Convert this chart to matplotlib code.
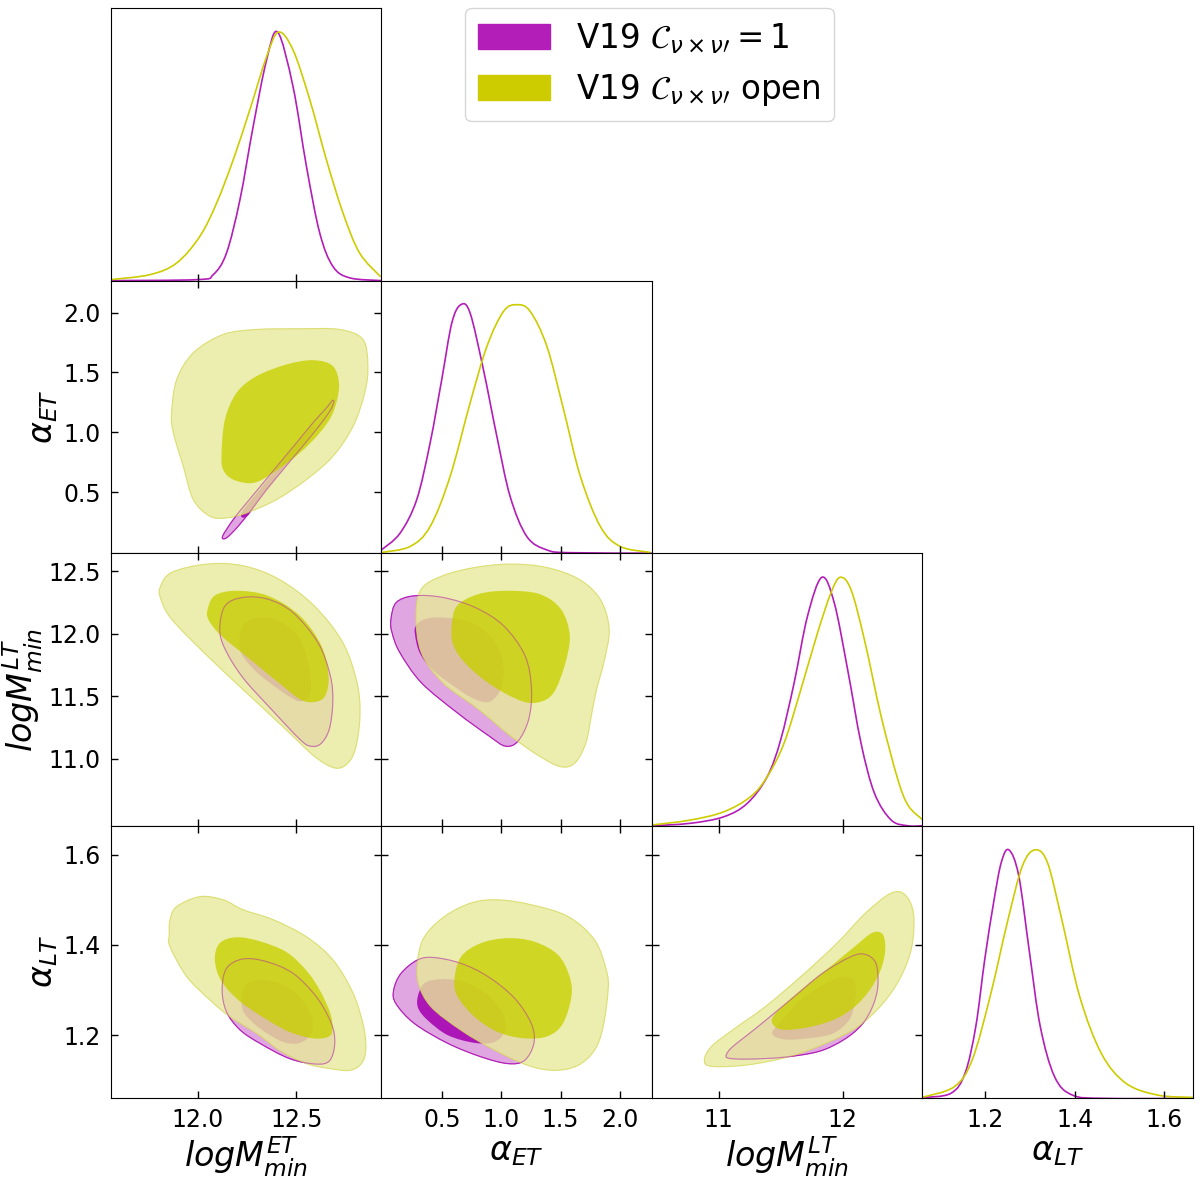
import numpy as np
import matplotlib.pyplot as plt
from matplotlib.path import Path
from matplotlib.patches import PathPatch, Patch

# parameters
names = [r'$logM^{ET}_{min}$', r'$\alpha_{ET}$', r'$logM^{LT}_{min}$', r'$\alpha_{LT}$']
limits = [(11.56, 12.93), (-0.012, 2.269), (10.462, 12.643), (1.06, 1.664)]
xticks = [[12.0, 12.5], [0.5, 1.0, 1.5, 2.0], [11, 12], [1.2, 1.4, 1.6]]
yticks = [[], [0.5, 1.0, 1.5, 2.0], [11.0, 11.5, 12.0, 12.5], [1.2, 1.4, 1.6]]
xfmt = ['{:.1f}', '{:.1f}', '{:.0f}', '{:.1f}']
legend_labels = [r'V19 $\mathcal{C}_{\nu\times\nu\prime}=1$', r'V19 $\mathcal{C}_{\nu\times\nu\prime}$ open']

# 1D marginals (x, normalised density)
mag_1d_mET = [(11.56, 0.0), (12.0, 0.004), (12.079, 0.024), (12.146, 0.111), (12.214, 0.325), (12.281, 0.62),
              (12.349, 0.888), (12.405, 1.0), (12.483, 0.78), (12.551, 0.459), (12.618, 0.192),
              (12.685, 0.057), (12.77, 0.011), (12.93, 0.0)]
yel_1d_mET = [(11.56, 0.004), (11.759, 0.024), (11.894, 0.071), (12.011, 0.178), (12.096, 0.312), (12.18, 0.486),
              (12.264, 0.687), (12.349, 0.901), (12.409, 1.0), (12.483, 0.928), (12.568, 0.727),
              (12.652, 0.486), (12.736, 0.272), (12.82, 0.111), (12.927, 0.015)]
mag_1d_aET = [(-0.012, 0.013), (0.145, 0.08), (0.286, 0.215), (0.399, 0.443), (0.497, 0.698), (0.582, 0.926),
              (0.658, 1.0), (0.736, 0.967), (0.849, 0.738), (0.962, 0.47), (1.074, 0.228), (1.215, 0.067),
              (1.384, 0.013), (1.58, 0.002), (2.269, 0.0)]
yel_1d_aET = [(-0.012, 0.003), (0.23, 0.027), (0.399, 0.107), (0.568, 0.309), (0.736, 0.604), (0.878, 0.832),
              (1.018, 0.973), (1.131, 1.0), (1.243, 0.973), (1.384, 0.832), (1.525, 0.577), (1.666, 0.309),
              (1.835, 0.107), (2.003, 0.027), (2.257, 0.003)]
mag_1d_mLT = [(10.46, 0.0), (10.771, 0.01), (11.04, 0.036), (11.23, 0.09), (11.392, 0.198), (11.5, 0.346),
              (11.608, 0.574), (11.716, 0.843), (11.832, 1.0), (11.932, 0.897), (12.04, 0.628),
              (12.148, 0.332), (12.256, 0.131), (12.391, 0.023), (12.527, 0.0), (12.643, 0.0)]
yel_1d_mLT = [(10.46, 0.003), (10.771, 0.023), (11.04, 0.056), (11.257, 0.117), (11.392, 0.198), (11.527, 0.332),
              (11.662, 0.547), (11.797, 0.776), (11.905, 0.937), (11.98, 1.0), (12.067, 0.95), (12.175, 0.749),
              (12.31, 0.44), (12.446, 0.184), (12.53, 0.08), (12.643, 0.025)]
mag_1d_aLT = [(1.059, 0.003), (1.123, 0.02), (1.155, 0.101), (1.179, 0.289), (1.199, 0.559), (1.219, 0.79),
              (1.236, 0.95), (1.253, 1.0), (1.275, 0.895), (1.299, 0.586), (1.323, 0.289), (1.355, 0.087),
              (1.395, 0.013), (1.467, 0.0), (1.664, 0.0)]
yel_1d_aLT = [(1.059, 0.004), (1.131, 0.047), (1.171, 0.155), (1.211, 0.41), (1.251, 0.72), (1.283, 0.935),
              (1.311, 1.0), (1.339, 0.949), (1.371, 0.72), (1.411, 0.41), (1.459, 0.182), (1.514, 0.061),
              (1.586, 0.013), (1.664, 0.004)]

# 2D contours (68% inner, 95% outer), outlines in data units
# alpha_ET vs logM_ET
yel_out_10 = [(11.868, 1.162), (11.894, 1.441), (11.978, 1.665), (12.129, 1.818), (12.298, 1.86), (12.517, 1.866),
              (12.719, 1.86), (12.837, 1.776), (12.862, 1.553), (12.846, 1.33), (12.787, 1.05), (12.685, 0.799),
              (12.551, 0.604), (12.399, 0.436), (12.248, 0.325), (12.146, 0.283), (12.062, 0.297),
              (11.978, 0.436), (11.927, 0.715), (11.877, 0.995)]
yel_in_10 = [(12.121, 0.827), (12.138, 1.106), (12.197, 1.33), (12.298, 1.469), (12.45, 1.567), (12.584, 1.603),
             (12.685, 1.553), (12.716, 1.385), (12.685, 1.162), (12.618, 0.995), (12.517, 0.827),
             (12.382, 0.66), (12.281, 0.576), (12.18, 0.604), (12.129, 0.688)]
mag_out_10 = [(12.126, 0.129), (12.18, 0.269), (12.248, 0.409), (12.332, 0.576), (12.416, 0.744), (12.5, 0.911),
              (12.584, 1.079), (12.652, 1.204), (12.682, 1.265), (12.689, 1.251), (12.669, 1.176),
              (12.601, 1.023), (12.517, 0.855), (12.433, 0.688), (12.349, 0.52), (12.273, 0.353),
              (12.205, 0.213), (12.146, 0.116)]
mag_in_10 = [(12.222, 0.325), (12.315, 0.52), (12.416, 0.73), (12.517, 0.939), (12.581, 1.05), (12.588, 1.023),
             (12.534, 0.897), (12.433, 0.688), (12.332, 0.478), (12.25, 0.297)]

# logM_LT vs logM_ET
yel_out_20 = [(11.81, 12.369), (11.868, 12.489), (12.049, 12.556), (12.229, 12.543), (12.41, 12.436),
              (12.59, 12.222), (12.735, 11.928), (12.807, 11.607), (12.822, 11.34), (12.798, 11.073),
              (12.753, 10.952), (12.69, 10.926), (12.59, 11.019), (12.446, 11.233), (12.265, 11.5),
              (12.049, 11.821), (11.868, 12.115), (11.814, 12.275)]
yel_in_20 = [(12.049, 12.182), (12.085, 12.302), (12.193, 12.342), (12.356, 12.302), (12.518, 12.142),
             (12.627, 11.901), (12.663, 11.661), (12.645, 11.5), (12.59, 11.452), (12.518, 11.474),
             (12.41, 11.607), (12.265, 11.794), (12.121, 11.981), (12.058, 12.102)]
mag_out_20 = [(12.112, 12.035), (12.139, 12.222), (12.229, 12.289), (12.356, 12.275), (12.482, 12.169),
              (12.609, 11.928), (12.672, 11.661), (12.684, 11.447), (12.666, 11.233), (12.623, 11.118),
              (12.572, 11.099), (12.518, 11.153), (12.374, 11.393), (12.229, 11.647), (12.139, 11.875)]
mag_in_20 = [(12.211, 11.928), (12.229, 12.062), (12.302, 12.128), (12.41, 12.102), (12.518, 11.955),
             (12.572, 11.661), (12.563, 11.5), (12.509, 11.46), (12.41, 11.554), (12.302, 11.687),
             (12.229, 11.821)]

# logM_LT vs alpha_ET
yel_out_21 = [(0.28, 12.142), (0.325, 12.356), (0.506, 12.463), (0.778, 12.529), (1.079, 12.556), (1.381, 12.529),
              (1.652, 12.436), (1.833, 12.275), (1.909, 12.035), (1.864, 11.768), (1.803, 11.554),
              (1.758, 11.34), (1.713, 11.126), (1.622, 10.966), (1.502, 10.934), (1.321, 11.019),
              (1.079, 11.179), (0.808, 11.393), (0.506, 11.607), (0.325, 11.848)]
yel_in_21 = [(0.581, 12.062), (0.627, 12.222), (0.808, 12.316), (1.049, 12.342), (1.321, 12.316), (1.502, 12.195),
             (1.577, 11.981), (1.532, 11.741), (1.441, 11.527), (1.321, 11.452), (1.17, 11.46), (0.928, 11.58),
             (0.717, 11.741), (0.597, 11.901)]
mag_out_21 = [(0.069, 12.115), (0.114, 12.249), (0.265, 12.302), (0.506, 12.289), (0.778, 12.209), (1.019, 12.062),
              (1.2, 11.821), (1.254, 11.554), (1.23, 11.313), (1.14, 11.139), (1.034, 11.099), (0.898, 11.179),
              (0.627, 11.367), (0.325, 11.607), (0.144, 11.848), (0.078, 12.008)]
mag_in_21 = [(0.271, 11.995), (0.28, 12.062), (0.355, 12.115), (0.506, 12.128), (0.747, 12.088), (0.928, 11.955),
             (1.013, 11.768), (1.004, 11.58), (0.913, 11.46), (0.778, 11.474), (0.597, 11.58), (0.416, 11.714),
             (0.31, 11.848)]

# alpha_LT vs logM_ET
yel_out_30 = [(11.856, 1.422), (11.86, 1.456), (11.894, 1.485), (12.011, 1.507), (12.129, 1.5), (12.23, 1.478),
              (12.382, 1.456), (12.551, 1.418), (12.685, 1.367), (12.787, 1.293), (12.841, 1.218),
              (12.851, 1.167), (12.829, 1.137), (12.77, 1.122), (12.669, 1.126), (12.551, 1.137),
              (12.42, 1.165), (12.298, 1.204), (12.163, 1.241), (12.062, 1.278), (11.944, 1.33), (11.86, 1.396)]
yel_in_30 = [(12.087, 1.367), (12.112, 1.404), (12.197, 1.417), (12.315, 1.408), (12.45, 1.384), (12.551, 1.343),
             (12.618, 1.3), (12.672, 1.248), (12.682, 1.211), (12.66, 1.196), (12.584, 1.193), (12.466, 1.207),
             (12.349, 1.235), (12.214, 1.275), (12.12, 1.32)]
mag_out_30 = [(12.124, 1.3), (12.146, 1.348), (12.23, 1.369), (12.349, 1.363), (12.483, 1.337), (12.601, 1.285),
              (12.677, 1.226), (12.694, 1.182), (12.669, 1.144), (12.601, 1.136), (12.466, 1.148),
              (12.315, 1.182), (12.214, 1.212), (12.146, 1.252)]
mag_in_30 = [(12.222, 1.285), (12.24, 1.31), (12.298, 1.322), (12.416, 1.315), (12.517, 1.285), (12.576, 1.241),
             (12.576, 1.204), (12.517, 1.183), (12.433, 1.185), (12.315, 1.215), (12.235, 1.25)]

# alpha_LT vs alpha_ET
yel_out_31 = [(0.295, 1.367), (0.351, 1.418), (0.52, 1.463), (0.745, 1.493), (0.97, 1.5), (1.252, 1.489),
              (1.562, 1.463), (1.786, 1.411), (1.885, 1.344), (1.9, 1.3), (1.857, 1.218), (1.786, 1.167),
              (1.646, 1.133), (1.448, 1.122), (1.224, 1.133), (0.942, 1.167), (0.66, 1.211), (0.407, 1.263),
              (0.3, 1.315)]
yel_in_31 = [(0.604, 1.322), (0.66, 1.374), (0.829, 1.404), (1.055, 1.415), (1.28, 1.407), (1.477, 1.378),
             (1.575, 1.33), (1.59, 1.285), (1.519, 1.226), (1.392, 1.198), (1.195, 1.193), (0.97, 1.207),
             (0.773, 1.241), (0.632, 1.285)]
mag_out_31 = [(0.092, 1.3), (0.154, 1.337), (0.295, 1.367), (0.435, 1.372), (0.66, 1.359), (0.886, 1.33),
              (1.111, 1.282), (1.252, 1.226), (1.274, 1.182), (1.195, 1.144), (1.055, 1.137), (0.829, 1.152),
              (0.548, 1.182), (0.266, 1.226), (0.111, 1.27)]
mag_in_31 = [(0.295, 1.285), (0.351, 1.315), (0.492, 1.324), (0.688, 1.318), (0.886, 1.289), (1.012, 1.248),
             (1.032, 1.211), (0.942, 1.185), (0.773, 1.183), (0.548, 1.2), (0.379, 1.233), (0.3, 1.259)]

# alpha_LT vs logM_LT
yel_out_32 = [(10.885, 1.145), (10.942, 1.175), (11.115, 1.212), (11.375, 1.263), (11.663, 1.33), (11.951, 1.403),
              (12.182, 1.47), (12.384, 1.514), (12.499, 1.512), (12.571, 1.47), (12.557, 1.396), (12.47, 1.33),
              (12.326, 1.271), (12.124, 1.219), (11.865, 1.182), (11.577, 1.153), (11.231, 1.134),
              (10.942, 1.131)]
yel_in_32 = [(11.432, 1.227), (11.461, 1.249), (11.634, 1.293), (11.865, 1.344), (12.095, 1.396), (12.24, 1.427),
             (12.326, 1.422), (12.34, 1.381), (12.283, 1.33), (12.153, 1.278), (11.98, 1.241), (11.75, 1.219),
             (11.519, 1.212)]
mag_out_32 = [(11.063, 1.157), (11.115, 1.175), (11.317, 1.219), (11.577, 1.278), (11.836, 1.337), (12.067, 1.374),
              (12.182, 1.379), (12.268, 1.359), (12.283, 1.308), (12.24, 1.263), (12.153, 1.223), (12.009, 1.19),
              (11.807, 1.164), (11.519, 1.151), (11.231, 1.147), (11.081, 1.149)]
mag_in_32 = [(11.432, 1.204), (11.49, 1.227), (11.663, 1.278), (11.865, 1.315), (12.009, 1.33), (12.095, 1.319),
             (12.101, 1.278), (12.052, 1.234), (11.922, 1.204), (11.721, 1.193), (11.519, 1.191)]

diag = {0: (mag_1d_mET, yel_1d_mET), 1: (mag_1d_aET, yel_1d_aET),
        2: (mag_1d_mLT, yel_1d_mLT), 3: (mag_1d_aLT, yel_1d_aLT)}
pairs = {(1, 0): (mag_out_10, mag_in_10, yel_out_10, yel_in_10),
         (2, 0): (mag_out_20, mag_in_20, yel_out_20, yel_in_20),
         (2, 1): (mag_out_21, mag_in_21, yel_out_21, yel_in_21),
         (3, 0): (mag_out_30, mag_in_30, yel_out_30, yel_in_30),
         (3, 1): (mag_out_31, mag_in_31, yel_out_31, yel_in_31),
         (3, 2): (mag_out_32, mag_in_32, yel_out_32, yel_in_32)}

M_LINE = '#b31db8'
M_DARK = '#ac16b6'
M_LIGHT = '#e0a6e2'
Y_LINE = '#cccc00'
Y_DARK = '#c9d000'
Y_LIGHT = '#e7ea9a'
Y_EDGE = '#d6d85a'


def smooth_path(pts, closed=True):
    # catmull-rom through the read points, handed to matplotlib as cubic beziers
    p = np.asarray(pts, float)
    n = len(p)
    if closed:
        ext = np.vstack([p[-1], p, p[0], p[1]])
        nseg = n
    else:
        ext = np.vstack([p[0], p, p[-1]])
        nseg = n - 1
    verts = [p[0]]
    codes = [Path.MOVETO]
    for k in range(nseg):
        p0, p1, p2, p3 = ext[k], ext[k + 1], ext[k + 2], ext[k + 3]
        verts += [p1 + (p2 - p0) / 6, p2 - (p3 - p1) / 6, p2]
        codes += [Path.CURVE4] * 3
    if closed:
        verts.append(p[0])
        codes.append(Path.CLOSEPOLY)
    return Path(verts, codes)


fig, axes = plt.subplots(4, 4, figsize=(12, 11.77), dpi=100)
fig.subplots_adjust(left=0.0923, right=0.9942, top=0.9932, bottom=0.0668, wspace=0, hspace=0)

for i in range(4):
    for j in range(4):
        ax = axes[i, j]
        if j > i:
            ax.set_visible(False)
            continue
        ax.set_xlim(limits[j])
        ax.set_xticks(xticks[j])
        ax.tick_params(direction='in', length=5, width=1, labelsize=17, pad=7)
        if i == j:
            mag, yel = diag[i]
            ax.add_patch(PathPatch(smooth_path(mag, closed=False), fc='none', ec=M_LINE, lw=1.2))
            ax.add_patch(PathPatch(smooth_path(yel, closed=False), fc='none', ec=Y_LINE, lw=1.2))
            ax.set_ylim(0, 1.097)
            ax.set_yticks([])
        else:
            mo, mi, yo, yi = pairs[(i, j)]
            ax.add_patch(PathPatch(smooth_path(mo), fc=M_LIGHT, ec=M_LINE, lw=0.8, zorder=1))
            ax.add_patch(PathPatch(smooth_path(mi), fc=M_DARK, ec='none', zorder=1.1))
            ax.add_patch(PathPatch(smooth_path(yo), fc=Y_LIGHT, ec=Y_EDGE, lw=0.8, alpha=0.8, zorder=2))
            ax.add_patch(PathPatch(smooth_path(yi), fc=Y_DARK, ec='none', alpha=0.8, zorder=2.1))
            ax.add_patch(PathPatch(smooth_path(mo), fc='none', ec=M_LINE, lw=0.8, alpha=0.45, zorder=3))
            ax.set_ylim(limits[i])
            ax.set_yticks(yticks[i])
            ax.tick_params(top=True, right=True)
        if i == 3:
            ax.set_xticklabels([xfmt[j].format(t) for t in xticks[j]])
            ax.set_xlabel(names[j], fontsize=24, labelpad=2)
        else:
            ax.set_xticklabels([])
        if j == 0 and i > 0:
            ax.set_yticklabels(['{:.1f}'.format(t) for t in yticks[i]])
            ax.set_ylabel(names[i], fontsize=24, labelpad=2.5)
        else:
            ax.set_yticklabels([])

handles = [Patch(facecolor=M_LINE, edgecolor=M_LINE), Patch(facecolor=Y_LINE, edgecolor=Y_LINE)]
fig.legend(handles, legend_labels, loc='upper left', bbox_to_anchor=(0.3875, 0.9932), fontsize=23.5,
           handlelength=2.2, handleheight=0.8, handletextpad=0.8, borderpad=0.4, labelspacing=0.5,
           borderaxespad=0)

fig.savefig('out.png', dpi=100)
